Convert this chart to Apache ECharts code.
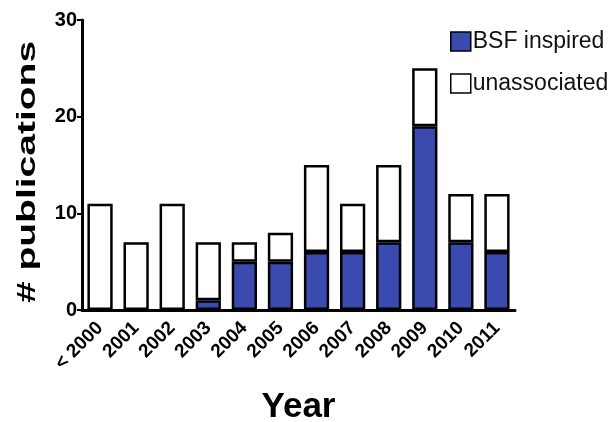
<!DOCTYPE html>
<html><head><meta charset="utf-8">
<script src="https://cdn.jsdelivr.net/npm/echarts@6/dist/echarts.min.js"></script>
<style>html,body{margin:0;padding:0;background:#fff}#c{width:611px;height:422px}</style>
</head><body><div id="c"></div>
<script>
const categories = ['< 2000','2001','2002','2003','2004','2005','2006','2007','2008','2009','2010','2011'];
const bsfInspired = [0,0,0,1,5,5,6,6,7,19,7,6];
const unassociated = [11,7,11,6,2,3,9,5,8,6,5,6];
const yTicks = [0,10,20,30];

const chart = echarts.init(document.getElementById('c'));
const font = 'Liberation Sans, Arial, sans-serif';
chart.setOption({
  animation:false,
  grid:{left:82,right:96,top:20,bottom:112,containLabel:false,outerBoundsMode:'none'},
  legend:{
    left:450, top:30, padding:0, orient:'vertical', itemGap:19, itemWidth:20, itemHeight:19,
    textStyle:{fontFamily:font,fontSize:23,color:'#111',lineHeight:19,padding:[0,0,0,-3]},
    itemStyle:{borderColor:'#000',borderWidth:1.5},
    data:[{name:'BSF inspired',icon:'rect'},{name:'unassociated',icon:'rect'}]
  },
  graphic:[{
    type:'text', x:28, y:172, rotation:Math.PI/2, scaleX:1.5, scaleY:1,
    style:{text:'# publications', fontFamily:font, fontSize:26, fontWeight:'bold', fill:'#000',
      textAlign:'center', textVerticalAlign:'middle'}
  }],
  xAxis:{
    type:'category', data:categories,
    name:'Year', nameLocation:'middle', nameGap:80,
    nameTextStyle:{fontFamily:font,fontSize:35,fontWeight:'bold',color:'#000'},
    axisLine:{lineStyle:{color:'#000',width:3}},
    axisTick:{alignWithLabel:true,length:4,lineStyle:{color:'#000',width:3}},
    axisLabel:{rotate:45,fontFamily:font,fontSize:19,fontWeight:'bold',color:'#000',margin:15,interval:0}
  },
  yAxis:{
    type:'value', min:yTicks[0], max:yTicks[yTicks.length-1], interval:10,
    axisLine:{show:true,lineStyle:{color:'#000',width:3}},
    axisTick:{show:true,length:5,lineStyle:{color:'#000',width:2}},
    axisLabel:{fontFamily:font,fontSize:20,fontWeight:'bold',color:'#000',margin:5},
    splitLine:{show:false}
  },
  series:[
    {name:'BSF inspired',type:'bar',stack:'a',data:bsfInspired,barWidth:'70%',
     itemStyle:{color:'#3a4aae',borderColor:'#000',borderWidth:2.5}},
    {name:'unassociated',type:'bar',stack:'a',data:unassociated,barWidth:'70%',
     itemStyle:{color:'#fff',borderColor:'#000',borderWidth:2.5}}
  ]
});
</script></body></html>
